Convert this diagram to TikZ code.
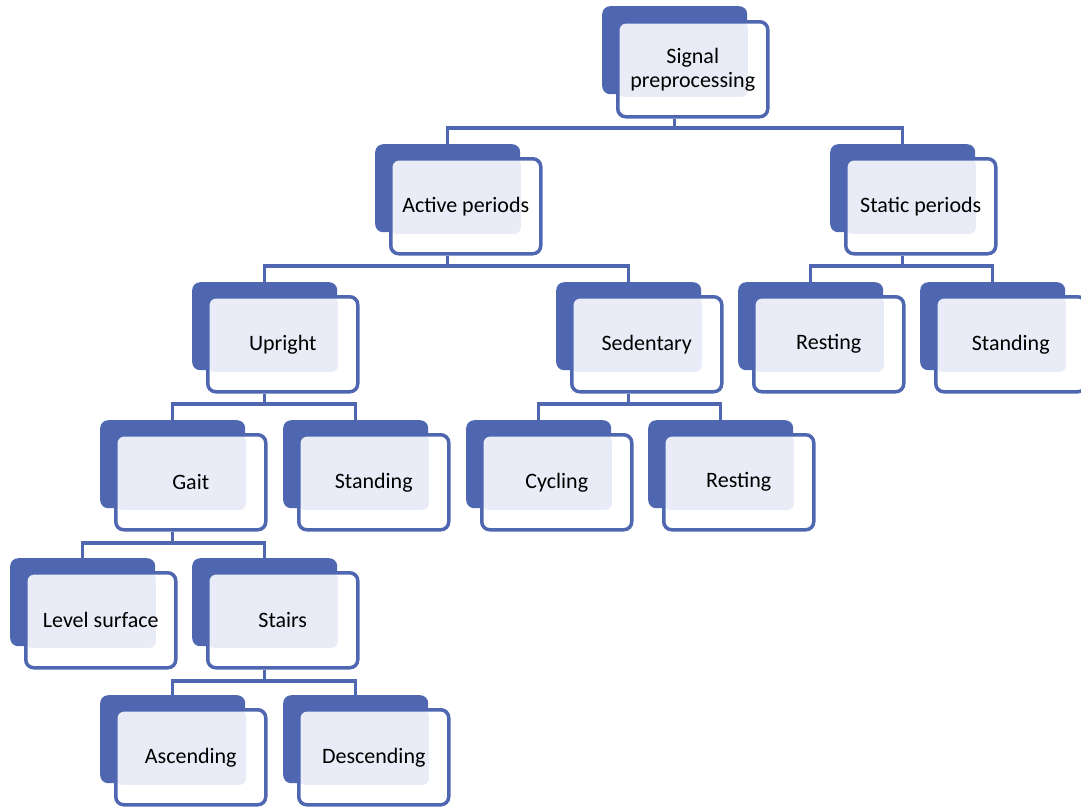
\documentclass[tikz,border=0pt]{standalone}
\usepackage{fontspec}
\setmainfont{Carlito}
\usetikzlibrary{calc}

\definecolor{boxblue}{RGB}{79,103,176}
\definecolor{panelgrey}{RGB}{233,236,246}

\tikzset{
  backbox/.style={fill=boxblue, rounded corners=8pt, minimum width=145pt,
    minimum height=88pt, inner sep=0pt, anchor=north west},
  frontbox/.style={draw=boxblue, line width=3.5pt, fill=white, rounded corners=8pt,
    minimum width=150pt, minimum height=95pt, inner sep=0pt, anchor=north west,
    align=center, font=\fontsize{22}{24}\selectfont,
    path picture={\fill[panelgrey, rounded corners=6pt]
      (path picture bounding box.north west) rectangle
      ([shift={(-20pt,20pt)}]path picture bounding box.south east);}},
  link/.style={draw=boxblue, line width=3.5pt}
}

\begin{document}
\begin{tikzpicture}[x=1pt, y=-1pt]
    \useasboundingbox (0, 0) rectangle (1081, 807);

    % Back boxes
    \node[backbox] (sig-b) at (602, 6) {};
    \node[backbox] (act-b) at (375, 144) {};
    \node[backbox] (sta-b) at (830, 144) {};
    \node[backbox] (upr-b) at (192, 282) {};
    \node[backbox] (sed-b) at (556, 282) {};
    \node[backbox] (rsa-b) at (738, 282) {};
    \node[backbox] (sda-b) at (920, 282) {};
    \node[backbox] (gai-b) at (100, 420) {};
    \node[backbox] (sdb-b) at (283, 420) {};
    \node[backbox] (cyc-b) at (466, 420) {};
    \node[backbox] (rsb-b) at (648, 420) {};
    \node[backbox] (lev-b) at (10, 558) {};
    \node[backbox] (str-b) at (192, 558) {};
    \node[backbox] (asc-b) at (100, 695) {};
    \node[backbox] (dsc-b) at (283, 695) {};

    % Front boxes with labels
    \node[frontbox] (sig) at ([shift={(14,14)}]sig-b.north west) {Signal\\preprocessing};
    \node[frontbox] (act) at ([shift={(14,13)}]act-b.north west) {Active periods};
    \node[frontbox] (sta) at ([shift={(14,13)}]sta-b.north west) {Static periods};
    \node[frontbox] (upr) at ([shift={(14,13)}]upr-b.north west) {Upright};
    \node[frontbox] (sed) at ([shift={(14,13)}]sed-b.north west) {Sedentary};
    \node[frontbox] (rsa) at ([shift={(14,13)}]rsa-b.north west) {Resting};
    \node[frontbox] (sda) at ([shift={(14,13)}]sda-b.north west) {Standing};
    \node[frontbox] (gai) at ([shift={(14,13)}]gai-b.north west) {Gait};
    \node[frontbox] (sdb) at ([shift={(14,13)}]sdb-b.north west) {Standing};
    \node[frontbox] (cyc) at ([shift={(14,13)}]cyc-b.north west) {Cycling};
    \node[frontbox] (rsb) at ([shift={(14,13)}]rsb-b.north west) {Resting};
    \node[frontbox] (lev) at ([shift={(14,13)}]lev-b.north west) {Level surface};
    \node[frontbox] (str) at ([shift={(14,13)}]str-b.north west) {Stairs};
    \node[frontbox] (asc) at ([shift={(14,13)}]asc-b.north west) {Ascending};
    \node[frontbox] (dsc) at ([shift={(14,13)}]dsc-b.north west) {Descending};

    % Connectors
    \draw[link] (sig-b.south |- sig.south) -- ($(sig-b.south |- act-b.north)+(0,-16)$);
    \draw[link] (act-b.north) -- ++(0,-16) -| (sta-b.north);

    \draw[link] (act-b.south |- act.south) -- ($(act-b.south |- upr-b.north)+(0,-16)$);
    \draw[link] (upr-b.north) -- ++(0,-16) -| (sed-b.north);

    \draw[link] (sta-b.south |- sta.south) -- ($(sta-b.south |- rsa-b.north)+(0,-16)$);
    \draw[link] (rsa-b.north) -- ++(0,-16) -| (sda-b.north);

    \draw[link] (upr-b.south |- upr.south) -- ($(upr-b.south |- gai-b.north)+(0,-16)$);
    \draw[link] (gai-b.north) -- ++(0,-16) -| (sdb-b.north);

    \draw[link] (sed-b.south |- sed.south) -- ($(sed-b.south |- cyc-b.north)+(0,-16)$);
    \draw[link] (cyc-b.north) -- ++(0,-16) -| (rsb-b.north);

    \draw[link] (gai-b.south |- gai.south) -- ($(gai-b.south |- lev-b.north)+(0,-15)$);
    \draw[link] (lev-b.north) -- ++(0,-15) -| (str-b.north);

    \draw[link] (str-b.south |- str.south) -- ($(str-b.south |- asc-b.north)+(0,-14)$);
    \draw[link] (asc-b.north) -- ++(0,-14) -| (dsc-b.north);
\end{tikzpicture}
\end{document}
